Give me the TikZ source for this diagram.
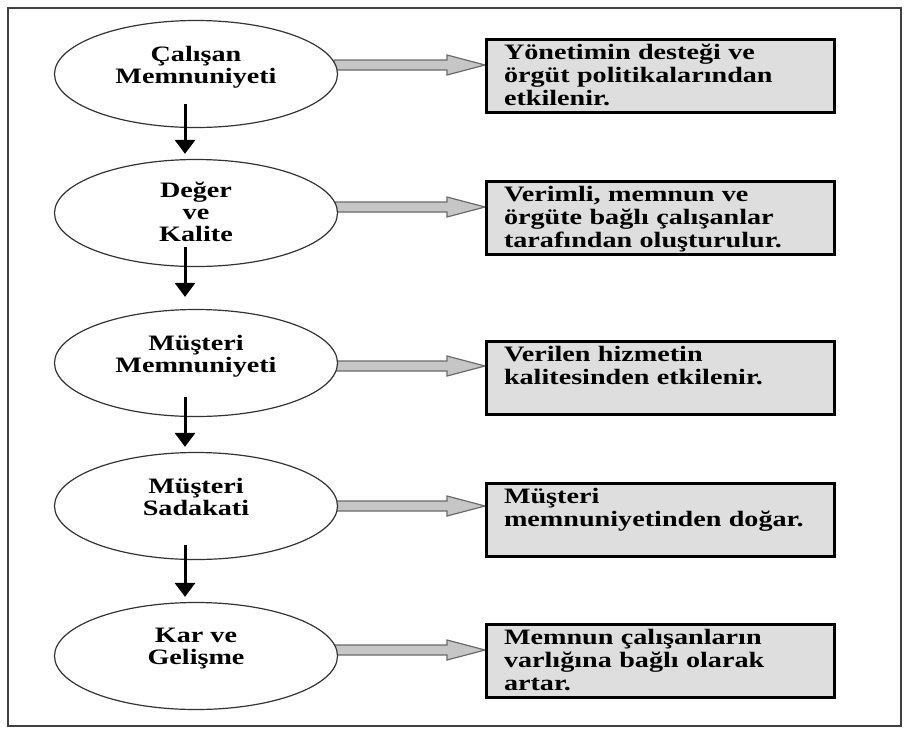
\documentclass[tikz,border=0pt]{standalone}
\usepackage{fontspec}
\setmainfont{Liberation Serif}[FakeStretch=1.28]
\usetikzlibrary{arrows.meta,shapes.geometric,backgrounds}
\definecolor{notefill}{HTML}{DEDEDE}
\definecolor{arrowfill}{HTML}{C6C6C6}
\definecolor{arrowline}{HTML}{6A6A6A}
% hollow grey arrow from an oval (#1) to a note (#2), #3 = vertical shift
\newcommand{\grayarrow}[3]{%
  \coordinate (s) at ([xshift=-4pt,yshift=#3]#1.east);
  \coordinate (t) at (s -| #2.west);
  \draw[garrow] ([yshift=5pt]s) -- ([xshift=-38pt,yshift=5pt]t) -- ([xshift=-38pt,yshift=10pt]t)
    -- (t) -- ([xshift=-38pt,yshift=-10pt]t) -- ([xshift=-38pt,yshift=-5pt]t) -- ([yshift=-5pt]s) -- cycle;
}
\tikzset{
  oval/.style={ellipse, draw=black!80, line width=1.2pt, fill=white, minimum width=283pt,
    minimum height=107pt, inner sep=0pt, align=center, text depth=19pt,
    font=\bfseries\fontsize{22}{22}\selectfont},
  note/.style={draw=black, line width=3pt, fill=notefill, anchor=north west, minimum width=348pt,
    minimum height=73pt, inner xsep=17pt, inner ysep=3pt, text width=313pt, align=left,
    text height=17pt, text depth=50pt, font=\bfseries\fontsize{22}{23}\selectfont},
  garrow/.style={draw=arrowline, fill=arrowfill, line width=1.2pt, line join=miter},
  down/.style={draw=black, line width=3pt, -{Triangle[width=20pt,length=14pt]}},
  frame/.style={draw=black!75, line width=1.5pt},
}
\begin{document}
\begin{tikzpicture}[x=1pt,y=-1pt]
\useasboundingbox (0,0) rectangle (907,729);
\draw[frame] (8,8) rectangle (901,726);

\node[oval] (e1) at (196,74) {Çalışan\\Memnuniyeti};
\node[oval, text depth=3pt] (e2) at (196,213) {Değer\\ve\\Kalite};
\node[oval] (e3) at (196,363) {Müşteri\\Memnuniyeti};
\node[oval] (e4) at (196,506) {Müşteri\\Sadakati};
\node[oval] (e5) at (196,656) {Kar ve\\Gelişme};

\node[note] (b1) at (485,38) {Yönetimin desteği ve\\örgüt politikalarından\\etkilenir.};
\node[note] (b2) at (485,180) {Verimli, memnun ve\\örgüte bağlı çalışanlar\\tarafından oluşturulur.};
\node[note] (b3) at (485,340) {Verilen hizmetin\\kalitesinden etkilenir.};
\node[note] (b4) at (485,482) {Müşteri\\memnuniyetinden doğar.};
\node[note] (b5) at (485,623) {Memnun çalışanların\\varlığına bağlı olarak\\artar.};

\begin{scope}[on background layer]
\grayarrow{e1}{b1}{9pt}
\grayarrow{e2}{b2}{6pt}
\grayarrow{e3}{b3}{-3pt}
\grayarrow{e4}{b4}{0pt}
\grayarrow{e5}{b5}{6pt}
\end{scope}

\foreach \a/\b/\s/\t in {e1/e2/24/5, e2/e3/20/12, e3/e4/20/5, e4/e5/15/5}
  \draw[down] ([xshift=-11pt,yshift=\s pt]\a.south) -- ([xshift=-11pt,yshift=\t pt]\b.north);
\end{tikzpicture}
\end{document}
